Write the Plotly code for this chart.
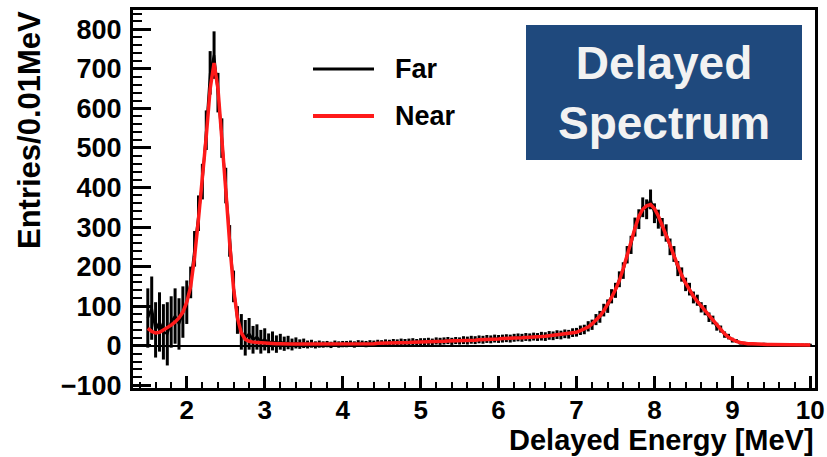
import numpy as np
import plotly.graph_objects as go

# bin centres (0.05 MeV steps from 1.50 to 10.00)
energy = np.round(np.arange(1.50, 10.001, 0.05), 2)

near = [
    44, 36, 32, 34, 40, 45, 52, 60, 70, 85,
    110, 150, 225, 320, 420, 530, 650, 715, 650, 530,
    395, 260, 145, 70, 32, 16, 11, 9, 8, 7,
    6,
    6, 5, 5, 5, 4, 4, 4, 4, 4, 3,
    3, 3, 3, 3, 3, 3, 3, 3, 3, 3,
    4, 4, 4, 4, 5, 5, 5, 5, 6, 6,
    6, 7, 7, 7, 8, 8, 8, 9, 9, 9,
    10, 10, 10, 11, 11, 11, 12, 12, 12, 13,
    13, 13, 14, 14, 15, 15, 16, 16, 17, 17,
    18, 18, 19, 19, 20, 20, 21, 21, 22, 22,
    23, 24, 25, 26, 27, 28, 29, 30, 32, 34,
    38, 42, 47, 55, 64, 75, 88, 103, 122, 142,
    165, 195, 225, 262, 297, 327, 345, 354, 357, 347,
    328, 305, 280, 255, 228, 200, 178, 158, 140, 125,
    112, 100, 87, 75, 63, 51, 40, 30, 21, 15,
    11, 8, 6, 5, 5, 4, 4, 4, 3, 3,
    3, 3, 3, 2, 2, 2, 2, 2, 2, 2,
]

far = [
    70, 95, 40, 60, 35, 30, 60, 75, 55, 85,
    110, 160, 245, 335, 415, 545, 690, 735, 640, 525,
    405, 265, 150, 65, 35, 20, 30, 15, 22, 10,
    16,
    6, 12, 4, 10, 5, 8, 3, 7, 4, 6,
    3, 5, 2, 4, 3, 4, 2, 5, 3, 4,
    4, 5, 3, 6, 5, 4, 6, 5, 7, 6,
    7, 6, 8, 7, 9, 8, 9, 10, 8, 10,
    10, 11, 9, 12, 11, 12, 13, 11, 13, 12,
    14, 13, 15, 14, 16, 15, 17, 16, 18, 17,
    18, 19, 18, 20, 21, 20, 22, 21, 23, 22,
    24, 23, 26, 25, 28, 27, 30, 29, 33, 34,
    39, 41, 49, 53, 66, 73, 90, 100, 125, 140,
    168, 190, 230, 255, 300, 320, 350, 345, 370, 335,
    320, 300, 285, 250, 232, 195, 180, 155, 143, 122,
    115, 97, 90, 72, 65, 48, 42, 28, 23, 14,
    12, 7, 6, 4, 5, 4, 3, 4, 3, 3,
    3, 2, 3, 2, 2, 2, 2, 2, 2, 2,
]

far_err = [
    75, 80, 70, 75, 70, 80, 65, 70, 65, 65,
    55, 40, 45, 45, 45, 50, 55, 60, 50, 50,
    45, 40, 40, 35, 45, 45, 40, 35, 32, 30,
    28,
    25, 24, 22, 20, 18, 17, 15, 14, 12, 12,
    10, 10, 9, 9, 8, 8, 8, 8, 8, 8,
    8, 8, 8, 8, 8, 8, 8, 8, 8, 8,
    9, 9, 9, 9, 9, 9, 9, 9, 9, 9,
    9, 9, 9, 9, 9, 9, 9, 9, 9, 9,
    10, 10, 10, 10, 10, 10, 10, 10, 10, 10,
    10, 10, 10, 10, 10, 10, 10, 10, 10, 10,
    11, 11, 11, 11, 11, 11, 11, 11, 11, 11,
    12, 12, 13, 13, 14, 15, 16, 17, 18, 19,
    20, 21, 22, 23, 24, 25, 25, 25, 25, 25,
    24, 23, 22, 21, 20, 19, 18, 17, 16, 15,
    14, 13, 13, 12, 11, 10, 9, 8, 7, 6,
    5, 4, 4, 3, 3, 3, 3, 3, 3, 3,
    3, 3, 3, 3, 3, 3, 3, 3, 3, 3,
]

series_names = ["Far", "Near"]
box_text = "Delayed<br>Spectrum"
x_title = "Delayed Energy [MeV]"
y_title = "Entries/0.01MeV"

W, H = 827, 457
L, R, T, B = 133, 12, 10, 69
PW, PH = W - L - R, H - T - B


def px(p):
    return (p - L) / PW


def py(p):
    return (H - B - p) / PH


FONT = "Liberation Sans, Arial, Helvetica, sans-serif"

fig = go.Figure()
fig.add_trace(go.Scatter(
    x=energy, y=far, mode="lines", name=series_names[0],
    line=dict(color="black", width=2.5),
    error_y=dict(type="data", array=far_err, visible=True,
                 color="black", thickness=3, width=0),
    showlegend=False,
))
fig.add_trace(go.Scatter(
    x=energy, y=near, mode="lines", name=series_names[1],
    line=dict(color="#ff1a1a", width=3.5),
    showlegend=False,
))

fig.update_layout(
    width=W, height=H,
    margin=dict(l=L, r=R, t=T, b=B, autoexpand=False),
    paper_bgcolor="white", plot_bgcolor="white",
    font=dict(family=FONT, color="black"),
)
fig.update_xaxes(
    range=[1.31, 10.06], showgrid=False, zeroline=False, automargin=False,
    showline=True, linewidth=3, linecolor="black", mirror=True,
    ticks="inside", ticklen=12, tickwidth=2.5, tickcolor="black",
    dtick=1, tick0=0,
    minor=dict(ticks="inside", ticklen=6, tickwidth=2, dtick=0.2,
               tickcolor="black", showgrid=False),
    tickfont=dict(family=FONT, size=26, weight="bold", color="black"),
    ticklabelstandoff=-3,
)
fig.update_yaxes(
    range=[-107, 849], showgrid=False, automargin=False,
    zeroline=True, zerolinecolor="black", zerolinewidth=1.5,
    showline=True, linewidth=3, linecolor="black", mirror=True,
    ticks="inside", ticklen=18, tickwidth=2.5, tickcolor="black",
    dtick=100, tick0=0,
    minor=dict(ticks="inside", ticklen=9, tickwidth=2, dtick=20,
               tickcolor="black", showgrid=False),
    tickfont=dict(family=FONT, size=27, weight="bold", color="black"),
    ticklabelstandoff=3,
)

# legend drawn by hand (long line samples like the original)
fig.add_shape(type="line", xref="paper", yref="paper",
              x0=px(313), x1=px(374), y0=py(69), y1=py(69),
              line=dict(color="black", width=3))
fig.add_shape(type="line", xref="paper", yref="paper",
              x0=px(313), x1=px(374), y0=py(116), y1=py(116),
              line=dict(color="#ff1a1a", width=4))
for name, yy in zip(series_names, [69, 116]):
    fig.add_annotation(text=name, xref="paper", yref="paper",
                       x=px(393), y=py(yy), xanchor="left", yanchor="middle",
                       showarrow=False,
                       font=dict(family=FONT, size=27, weight="bold", color="black"))

# titled box
fig.add_shape(type="rect", xref="paper", yref="paper",
              x0=px(526), x1=px(802), y0=py(160), y1=py(25),
              fillcolor="#1f497d", line=dict(width=0), layer="above")
fig.add_annotation(text=box_text, xref="paper", yref="paper",
                   x=px(664), y=py(93), xanchor="center", yanchor="middle",
                   showarrow=False,
                   font=dict(family=FONT, size=46, weight="bold", color="#f2f2f2"))

# axis titles
fig.add_annotation(text=x_title, xref="paper", yref="paper",
                   x=px(816), y=py(440), xanchor="right", yanchor="middle",
                   showarrow=False,
                   font=dict(family=FONT, size=29, weight="bold", color="black"))
fig.add_annotation(text=y_title, xref="paper", yref="paper",
                   x=px(29), y=py(130), xanchor="center", yanchor="middle",
                   textangle=-90, showarrow=False,
                   font=dict(family=FONT, size=31, weight="bold", color="black"))

fig.write_html("out.html")
